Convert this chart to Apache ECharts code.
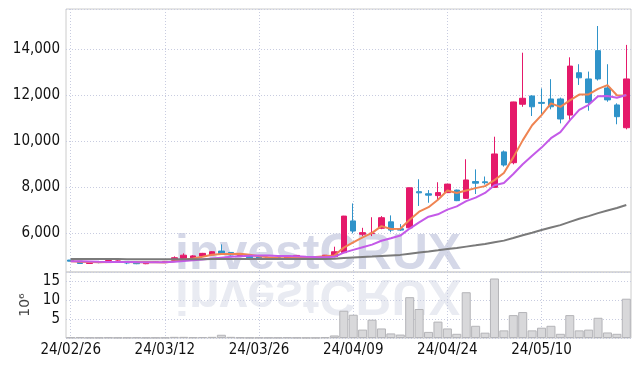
<!DOCTYPE html>
<html>
<head>
<meta charset="utf-8">
<script src="https://cdn.jsdelivr.net/npm/echarts@6/dist/echarts.min.js"></script>
<style>
  html, body { margin: 0; padding: 0; background: #fff; }
  #chart { width: 639px; height: 366px; }
</style>
</head>
<body>
<div id="chart"></div>
<script>
  // trading days
  const dates = [
    '24/02/26', '24/02/27', '24/02/28', '24/02/29', '24/03/04', '24/03/05', '24/03/06', '24/03/07', '24/03/08', '24/03/11',
    '24/03/12', '24/03/13', '24/03/14', '24/03/15', '24/03/18', '24/03/19', '24/03/20', '24/03/21', '24/03/22', '24/03/25',
    '24/03/26', '24/03/27', '24/03/28', '24/03/29', '24/04/01', '24/04/02', '24/04/03', '24/04/04', '24/04/05', '24/04/08',
    '24/04/09', '24/04/11', '24/04/12', '24/04/15', '24/04/16', '24/04/17', '24/04/18', '24/04/19', '24/04/22', '24/04/23',
    '24/04/24', '24/04/25', '24/04/26', '24/04/29', '24/04/30', '24/05/02', '24/05/03', '24/05/07', '24/05/08', '24/05/09',
    '24/05/10', '24/05/13', '24/05/14', '24/05/16', '24/05/17', '24/05/20', '24/05/21', '24/05/22', '24/05/23', '24/05/24'
  ]

  const opens = [
    4840, 4790, 4690, 4750, 4730, 4790, 4780, 4760, 4680, 4740,
    4760, 4830, 4910, 4900, 5010, 5060, 5230, 5170, 5040, 5010,
    4970, 4950, 4950, 4880, 5020, 4990, 4970, 4910, 4990, 5160,
    6540, 5960, 5990, 6220, 6500, 6200, 6240, 7810, 7720, 7640,
    7770, 7880, 7520, 8250, 8240, 8000, 9540, 9070, 11610, 11970,
    11690, 11840, 11840, 11140, 12980, 12710, 13940, 12320, 11580, 10590
  ]
  const closes = [
    4790, 4690, 4720, 4730, 4820, 4800, 4710, 4680, 4750, 4760,
    4780, 4940, 5050, 5020, 5130, 5200, 5090, 5060, 5060, 4940,
    4890, 4880, 4890, 5010, 5040, 4970, 4930, 5050, 5200, 6750,
    6100, 6030, 6010, 6680, 6140, 6140, 7980, 7760, 7660, 7770,
    8140, 7420, 8320, 8180, 8200, 9450, 8970, 11710, 11870, 11500,
    11650, 11500, 10970, 13270, 12760, 11680, 12710, 11800, 11070, 12710
  ]
  const lows = [
    4780, 4680, 4670, 4700, 4720, 4760, 4660, 4660, 4660, 4720,
    4740, 4810, 4900, 4890, 5000, 5040, 5080, 5040, 5020, 4930,
    4870, 4860, 4870, 4870, 5000, 4950, 4910, 4900, 4970, 5150,
    6000, 5880, 5880, 6180, 6050, 6100, 6230, 7190, 7330, 7450,
    7750, 7400, 7500, 7710, 8120, 7980, 8900, 9000, 11500, 11100,
    11140, 11390, 10780, 10900, 12450, 11330, 12640, 11720, 10740, 10520
  ]
  const highs = [
    4850, 4800, 4740, 4800, 4830, 4830, 4790, 4770, 4770, 4780,
    4800, 5000, 5130, 5050, 5150, 5220, 5520, 5180, 5080, 5020,
    4980, 4960, 4970, 5020, 5060, 5010, 4990, 5060, 5420, 6760,
    7300, 6240, 6700, 6750, 6780, 6400, 7990, 8350, 7880, 8220,
    8150, 7900, 9220, 8780, 8470, 10200, 9600, 11720, 13850, 12000,
    12300, 12700, 11900, 13650, 13350, 13030, 15010, 13350, 11650, 14190
  ]

  // volume, millions of shares
  const volumes = [
    0.15, 0.2, 0.12, 0.1, 0.15, 0.1, 0.12, 0.15, 0.1, 0.1,
    0.12, 0.3, 0.3, 0.2, 0.25, 0.3, 0.85, 0.3, 0.15, 0.1,
    0.12, 0.1, 0.1, 0.15, 0.1, 0.08, 0.08, 0.2, 0.67, 7.15,
    6.1, 2.2, 4.8, 2.5, 1.2, 0.9, 10.7, 7.6, 1.6, 4.3,
    2.5, 1.1, 12.0, 3.2, 1.4, 15.6, 2.0, 6.0, 6.8, 2.0,
    2.7, 3.2, 1.1, 6.0, 2.0, 2.2, 5.3, 1.45, 1.1, 10.3
  ]

  // moving average lines
  const ma5 = [
    4790, 4770, 4750, 4740, 4750, 4752, 4756, 4748, 4752, 4740,
    4736, 4782, 4856, 4910, 4984, 5068, 5098, 5100, 5108, 5070,
    5008, 4966, 4932, 4922, 4942, 4958, 4968, 5000, 5038, 5380,
    5606, 5826, 6018, 6314, 6192, 6200, 6590, 6940, 7136, 7462,
    7862, 7750, 7862, 7966, 8052, 8314, 8624, 9302, 10040, 10700,
    11140, 11646, 11498, 11778, 12030, 12036, 12278, 12444, 12004, 11994
  ]
  const ma10 = [
    4790, 4785, 4775, 4765, 4760, 4758, 4755, 4750, 4748, 4745,
    4744, 4769, 4802, 4831, 4862, 4902, 4940, 4978, 5009, 5027,
    5038, 5032, 5016, 5015, 5006, 4983, 4967, 4966, 4980, 5161,
    5282, 5397, 5509, 5676, 5786, 5903, 6208, 6479, 6725, 6827,
    7031, 7170, 7401, 7551, 7757, 8088, 8187, 8582, 9003, 9376,
    9727, 10135, 10400, 10909, 11365, 11588, 11962, 11971, 11891, 12012
  ]
  const ma60 = [
    4890, 4888, 4886, 4884, 4882, 4880, 4878, 4876, 4874, 4872,
    4870, 4872, 4874, 4876, 4878, 4880, 4882, 4884, 4884, 4884,
    4884, 4884, 4884, 4886, 4888, 4888, 4888, 4890, 4893, 4926,
    4948, 4969, 4989, 5020, 5042, 5064, 5117, 5166, 5214, 5264,
    5320, 5364, 5423, 5479, 5536, 5614, 5684, 5799, 5917, 6029,
    6143, 6255, 6358, 6499, 6632, 6747, 6879, 6996, 7101, 7233
  ]

  const font = "'Liberation Sans Narrow', 'DejaVu Sans Condensed', sans-serif"
  const dotted = { color: '#c8cce0', type: [1, 2], width: 1 }

  const chart = echarts.init(document.getElementById('chart'))

  const option = {
    animation: false,
    graphic: [
      {
        type: 'text',
        z: -1,
        x: 175,
        y: 255,
        style: {
          text: 'investCRUX',
          font: "bold 50px 'Liberation Sans', sans-serif",
          fill: '#d5d8e8',
          verticalAlign: 'middle'
        }
      },
      {
        type: 'text',
        z: -1,
        x: 175,
        y: 274.5,
        scaleY: -1,
        style: {
          text: 'investCRUX',
          y: -19,
          font: "bold 50px 'Liberation Sans', sans-serif",
          fill: '#e9ebf2',
          verticalAlign: 'middle'
        }
      }
    ],
    grid: [
      { left: 66, right: 8, top: 9, height: 263, show: true, borderColor: '#cccccc', borderWidth: 1 },
      { left: 66, right: 8, top: 272, height: 66, show: true, borderColor: '#cccccc', borderWidth: 1 }
    ],
    xAxis: [
      {
        type: 'category',
        gridIndex: 0,
        data: dates,
        axisLine: { show: false },
        axisTick: { show: false },
        axisLabel: { show: false },
        splitLine: { show: true, interval: 9, alignWithLabel: true, lineStyle: dotted }
      },
      {
        type: 'category',
        gridIndex: 1,
        data: dates,
        axisLine: { show: false },
        axisTick: { show: false },
        axisLabel: { interval: 9, fontSize: 15, fontFamily: font, color: '#111', margin: 5 },
        splitLine: { show: true, interval: 9, alignWithLabel: true, lineStyle: dotted }
      }
    ],
    yAxis: [
      {
        type: 'value',
        gridIndex: 0,
        min: 4320,
        max: 15750,
        splitNumber: 5,
        axisLine: { show: false },
        axisTick: { show: false },
        axisLabel: { fontSize: 15, fontFamily: font, color: '#111', margin: 6, showMinLabel: false, showMaxLabel: false },
        splitLine: { lineStyle: dotted }
      },
      {
        type: 'value',
        gridIndex: 1,
        min: 0,
        max: 17.3,
        interval: 5,
        name: '10⁶',
        nameLocation: 'middle',
        nameRotate: 90,
        nameGap: 31,
        nameTextStyle: { fontSize: 14, fontFamily: 'DejaVu Sans', color: '#444' },
        axisLine: { show: false },
        axisTick: { show: false },
        axisLabel: { fontSize: 15, fontFamily: font, color: '#111', margin: 6, showMinLabel: false, showMaxLabel: false },
        splitLine: { lineStyle: dotted }
      }
    ],
    series: [
      {
        name: 'price',
        type: 'candlestick',
        xAxisIndex: 0,
        yAxisIndex: 0,
        barWidth: 6,
        data: dates.map((d, i) => [opens[i], closes[i], lows[i], highs[i]]),
        itemStyle: {
          color: '#e5196a',
          color0: '#2f93c9',
          borderColor: '#e5196a',
          borderColor0: '#2f93c9',
          borderWidth: 1
        }
      },
      {
        name: 'MA5',
        type: 'line',
        data: ma5,
        symbol: 'none',
        lineStyle: { color: '#ef8452', width: 2 }
      },
      {
        name: 'MA10',
        type: 'line',
        data: ma10,
        symbol: 'none',
        lineStyle: { color: '#c45ae8', width: 2 }
      },
      {
        name: 'MA60',
        type: 'line',
        data: ma60,
        symbol: 'none',
        lineStyle: { color: '#7a7a7a', width: 2 }
      },
      {
        name: 'volume',
        type: 'bar',
        xAxisIndex: 1,
        yAxisIndex: 1,
        barCategoryGap: '4%',
        data: volumes,
        itemStyle: { color: '#d8d8da', borderColor: '#b4b4b8', borderWidth: 1 }
      }
    ]
  }

  chart.setOption(option)
</script>
</body>
</html>
